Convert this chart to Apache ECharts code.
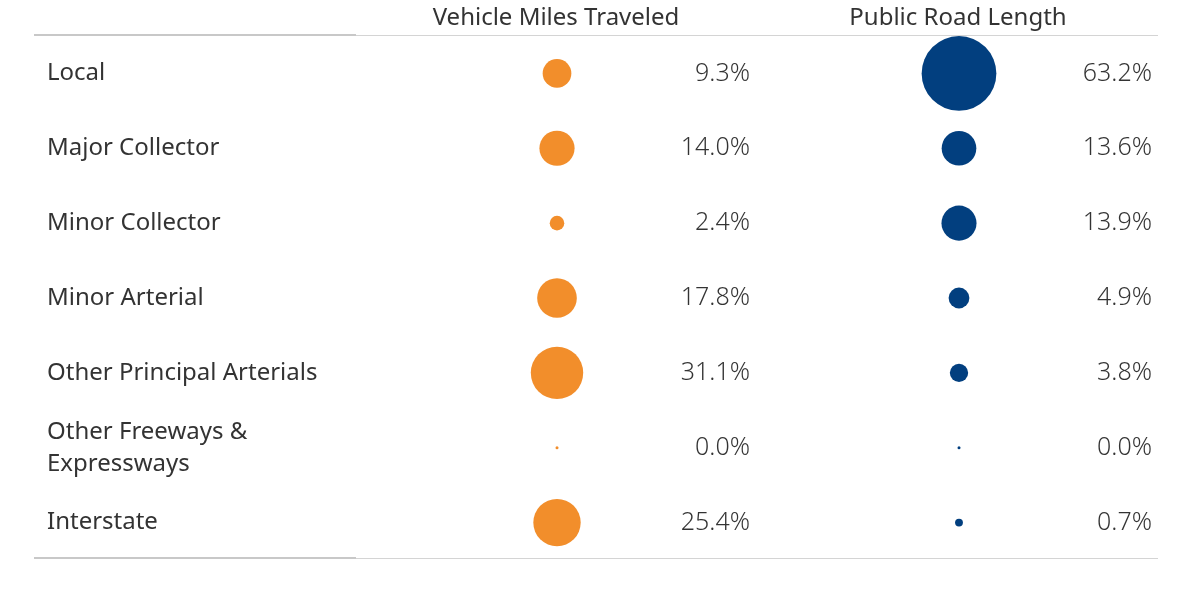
<!DOCTYPE html>
<html>
<head>
<meta charset="utf-8">
<script src="https://cdn.jsdelivr.net/npm/echarts@6/dist/echarts.min.js"></script>
<style>
  html, body { margin: 0; padding: 0; background: #fff; }
  #main { width: 1192px; height: 605px; }
</style>
</head>
<body>
<div id="main"></div>
<script>
// road functional classes (rows, top to bottom)
const categories = ['Local', 'Major Collector', 'Minor Collector', 'Minor Arterial',
  'Other Principal Arterials', 'Other Freeways & Expressways', 'Interstate'];
// shares in %
const vmtShare = [9.3, 14.0, 2.4, 17.8, 31.1, 0.0, 25.4];
const roadShare = [63.2, 13.6, 13.9, 4.9, 3.8, 0.0, 0.7];
const columnTitles = ['Vehicle Miles Traveled', 'Public Road Length'];

const FONT = '"Noto Sans", sans-serif';
const colorList = ['#F28E2B', '#023F7F'];

// circle area ~ value
function bubble(v) {
  return Math.max(3, 9.4 * Math.sqrt(v));
}

function dotSeries(values, x, color) {
  return {
    type: 'scatter',
    data: values.map((v, i) => [x, categories[i], v]),
    symbolSize: d => bubble(d[2]),
    itemStyle: { color: color, opacity: 1 },
    silent: true,
    z: 3
  };
}

function textSeries(values, x) {
  return {
    type: 'scatter',
    data: values.map((v, i) => [x, categories[i], v]),
    symbolSize: 0,
    silent: true,
    label: {
      show: true,
      position: 'left',
      distance: 0,
      formatter: p => p.data[2].toFixed(1) + '%',
      color: '#000000',
      fontFamily: FONT,
      fontWeight: 300,
      fontSize: 25
    }
  };
}

const myChart = echarts.init(document.getElementById('main'));

const option = {
  backgroundColor: '#fff',
  animation: false,
  grid: { left: 0, right: 0, top: 36, bottom: 45 },
  xAxis: { type: 'value', min: 0, max: 1192, show: false },
  yAxis: {
    type: 'category',
    inverse: true,
    data: categories,
    axisLine: { show: false },
    axisTick: { show: false },
    splitLine: { show: false },
    axisLabel: {
      inside: true,
      margin: 47,
      align: 'left',
      color: '#333333',
      fontFamily: FONT,
      fontSize: 24,
      lineHeight: 32,
      formatter: v => v === 'Other Freeways & Expressways' ? 'Other Freeways &\nExpressways' : v
    }
  },
  graphic: [
    { type: 'text', x: 556, y: 18, style: { text: columnTitles[0], fill: '#333', font: '24px ' + FONT, textAlign: 'center', textVerticalAlign: 'middle' } },
    { type: 'text', x: 958, y: 18, style: { text: columnTitles[1], fill: '#333', font: '24px ' + FONT, textAlign: 'center', textVerticalAlign: 'middle' } },
    { type: 'line', shape: { x1: 34, y1: 35, x2: 356, y2: 35 }, style: { stroke: '#c8c8c8', lineWidth: 2 } },
    { type: 'line', shape: { x1: 356, y1: 35.5, x2: 1158, y2: 35.5 }, style: { stroke: '#d4d4d4', lineWidth: 1 } },
    { type: 'line', shape: { x1: 34, y1: 558, x2: 356, y2: 558 }, style: { stroke: '#c8c8c8', lineWidth: 2 } },
    { type: 'line', shape: { x1: 356, y1: 558.5, x2: 1158, y2: 558.5 }, style: { stroke: '#d4d4d4', lineWidth: 1 } }
  ],
  series: [
    dotSeries(vmtShare, 557, colorList[0]),
    dotSeries(roadShare, 959, colorList[1]),
    textSeries(vmtShare, 750),
    textSeries(roadShare, 1152)
  ]
};

option && myChart.setOption(option);
window.addEventListener('resize', () => {
  if (myChart) myChart.resize();
});
</script>
</body>
</html>
